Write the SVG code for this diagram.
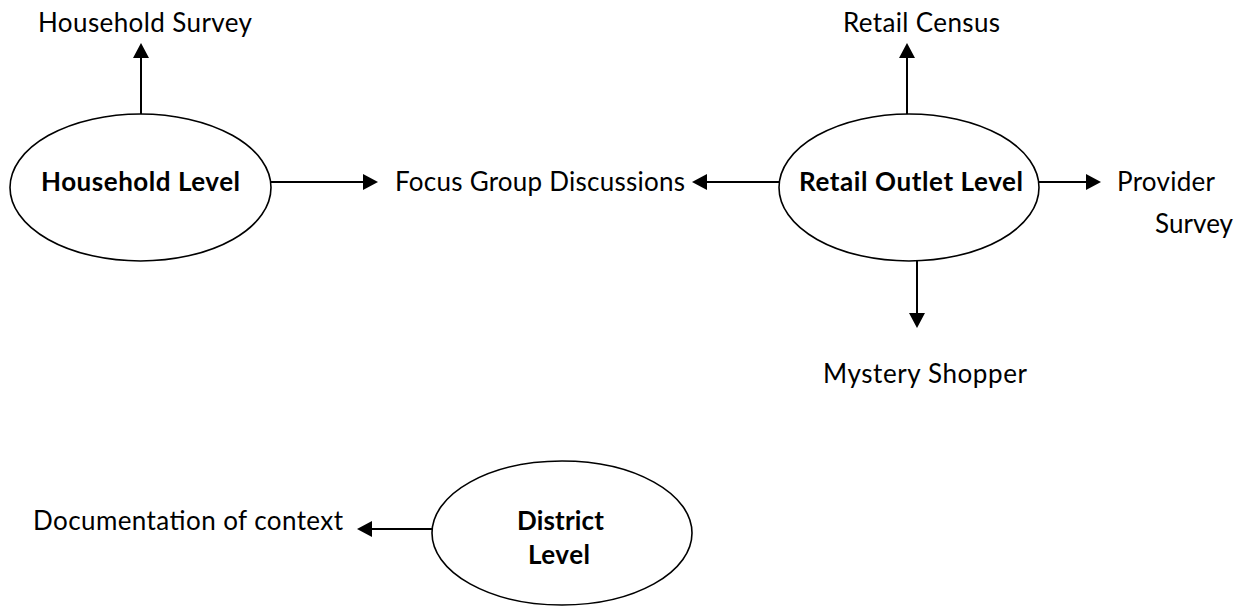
<svg xmlns="http://www.w3.org/2000/svg" width="1244" height="607" viewBox="0 0 1244 607">
<style>
  .node ellipse { fill: #ffffff; stroke: #000000; stroke-width: 1.6; }
  .t { font-family: Lato, "Open Sans", "Liberation Sans", sans-serif; font-size: 26px; fill: #000000; }
  .b { font-weight: bold; }
  .edge { stroke: #000000; stroke-width: 2; fill: none; marker-end: url(#arrow); }
</style>
<defs>
  <marker id="arrow" markerUnits="userSpaceOnUse" markerWidth="15" markerHeight="16" refX="7" refY="8" orient="auto" viewBox="0 0 15 16">
    <path d="M0,0 L15,8 L0,16 z" fill="#000000"/>
  </marker>
</defs>
<rect width="1244" height="607" fill="#ffffff"/>
<g id="connectors">
  <path class="edge" d="M141,114 L141,51"/>
  <path class="edge" d="M271,182 L370,182"/>
  <path class="edge" d="M779,182 L700,182"/>
  <path class="edge" d="M907,114 L907,51"/>
  <path class="edge" d="M1039,182 L1093,182"/>
  <path class="edge" d="M917,261 L917,320"/>
  <path class="edge" d="M432,529 L365,529"/>
</g>
<g id="household-level" class="node">
  <ellipse cx="140.5" cy="187.5" rx="130.5" ry="73.5"/>
  <text class="t b" x="41" y="191" textLength="199">Household Level</text>
</g>
<g id="retail-outlet-level" class="node">
  <ellipse cx="909" cy="187.5" rx="130" ry="73.5"/>
  <text class="t b" x="799" y="191" textLength="224">Retail Outlet Level</text>
</g>
<g id="district-level" class="node">
  <ellipse cx="562" cy="533" rx="130" ry="72"/>
  <text class="t b" x="517" y="530" textLength="87">District</text>
  <text class="t b" x="528" y="564" textLength="62">Level</text>
</g>
<g id="household-survey">
  <text class="t" x="38" y="32" textLength="214">Household Survey</text>
</g>
<g id="focus-group-discussions">
  <text class="t" x="395" y="191" textLength="290">Focus Group Discussions</text>
</g>
<g id="retail-census">
  <text class="t" x="843" y="32" textLength="157">Retail Census</text>
</g>
<g id="provider-survey">
  <text class="t" x="1117" y="191" textLength="98">Provider</text>
  <text class="t" x="1155" y="233" textLength="78">Survey</text>
</g>
<g id="mystery-shopper">
  <text class="t" x="823" y="383" textLength="204">Mystery Shopper</text>
</g>
<g id="documentation-of-context">
  <text class="t" x="33" y="530" textLength="310">Documentation of context</text>
</g>
</svg>
